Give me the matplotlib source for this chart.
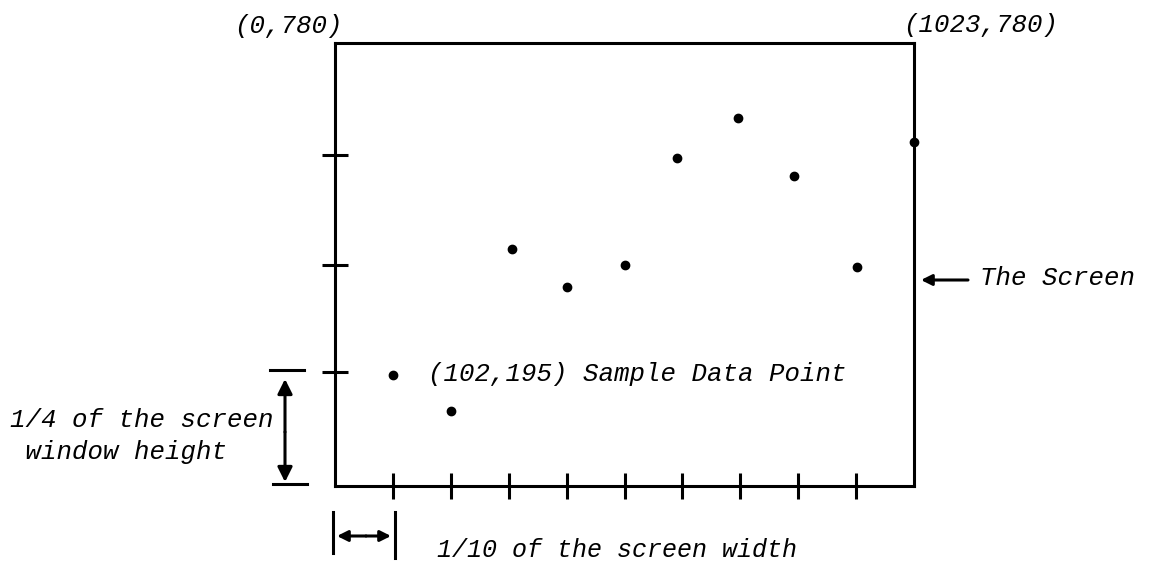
import matplotlib
matplotlib.use("Agg")
import matplotlib.pyplot as plt
from matplotlib.lines import Line2D

# screen coordinates of the sample points
xs = [102, 205, 312, 410, 512, 605, 712, 811, 923, 1023]
ys = [195, 132, 417, 350, 389, 577, 648, 545, 386, 605]

x_max, y_max = 1023, 780
x_ticks = [102.3 * k for k in range(1, 10)]
y_ticks = [200, 390, 582]

W, H = 1160, 566
fig = plt.figure(figsize=(W / 100, H / 100), dpi=100)
fig.patch.set_facecolor("white")

# axes box in image pixels: left 335, right 914, top 43, bottom 486
ax = fig.add_axes([335 / W, 1 - 486 / H, 579 / W, 443 / H])
ax.set_xlim(0, x_max)
ax.set_ylim(0, y_max)
for s in ax.spines.values():
    s.set_linewidth(2.2)
    s.set_color("black")
ax.set_xticks(x_ticks)
ax.set_yticks(y_ticks)
ax.tick_params(direction="inout", length=19, width=2.2, color="black",
               labelbottom=False, labelleft=False)
ax.set_facecolor("white")

ax.plot(xs, ys, "o", color="black", markersize=6, clip_on=False, zorder=5)

font = dict(family="Liberation Mono", style="italic", color="black")


def txt(x, y, s, size=18.5, ha="left"):
    # x, y in image pixels, y is the baseline
    fig.text(x / W, 1 - y / H, s, ha=ha, va="baseline", fontsize=size, **font)


def line(x0, y0, x1, y1, lw=2.2):
    fig.add_artist(Line2D([x0 / W, x1 / W], [1 - y0 / H, 1 - y1 / H],
                          transform=fig.transFigure, color="black", lw=lw))


def arrow(x0, y0, x1, y1, scale=16):
    ax.annotate("", xy=(x1, H - y1), xytext=(x0, H - y0),
                xycoords="figure pixels", textcoords="figure pixels",
                arrowprops=dict(arrowstyle="-|>", color="black", lw=2.2,
                                mutation_scale=scale, shrinkA=0, shrinkB=0))


txt(288, 33, "(0,780)", ha="center")
txt(981, 32, "(1023,780)", ha="center")
txt(428, 381, "(102,195) Sample Data Point")
txt(980, 285, "The Screen")
txt(10, 427, "1/4 of the screen")
txt(10, 459, " window height")
txt(437, 557, "1/10 of the screen width", size=18)

# "The Screen" pointer
arrow(968, 280, 921, 280)

# quarter-height marker on the left
line(270, 370, 304, 370)
line(273, 484, 307, 484)
arrow(285, 432, 285, 379, scale=22)
arrow(285, 432, 285, 482, scale=22)

# tenth-width marker under the axis
line(333, 512, 333, 553)
line(395, 512, 395, 558)
arrow(366, 536, 337, 536)
arrow(366, 536, 391, 536)

fig.savefig("out.png", dpi=100, facecolor="white")
